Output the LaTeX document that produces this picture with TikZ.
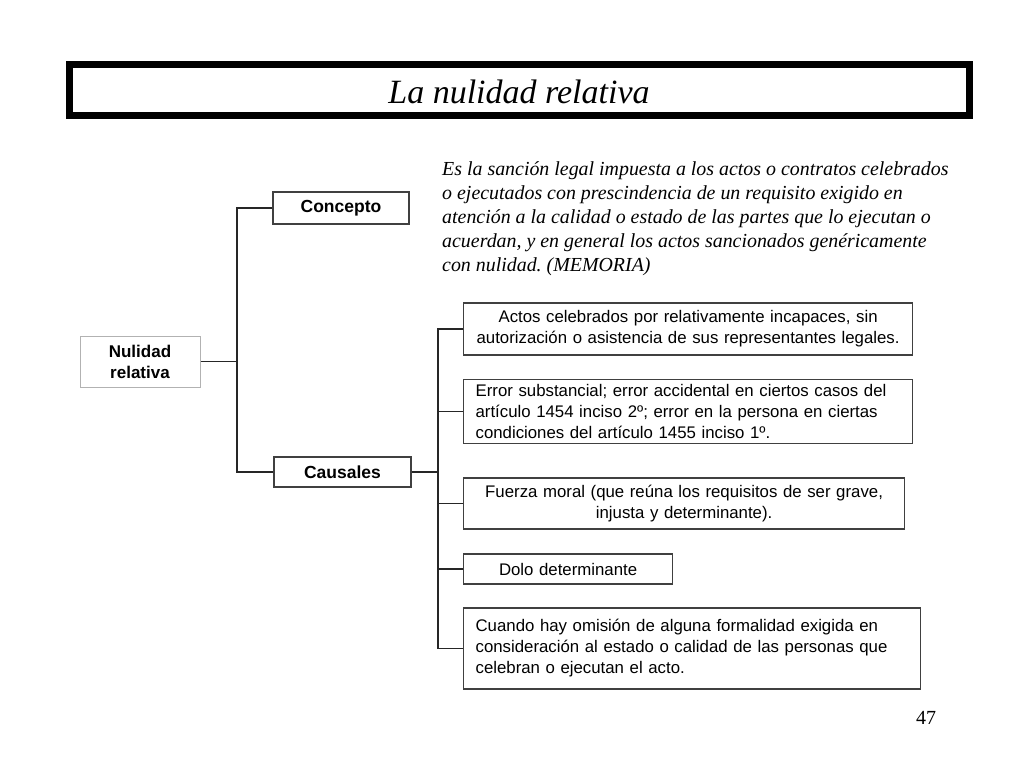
\documentclass[tikz,border=0pt]{standalone}
\usepackage{fontspec}
\setmainfont{Liberation Serif}
\setsansfont{Liberation Sans}
\usepackage{tikz}

\begin{document}
\frenchspacing
\begin{tikzpicture}[x=1pt,y=-1pt,
    caja/.style={draw=black!75,line width=1.2pt,fill=white,inner sep=0pt,
      font=\sffamily\fontsize{16.8}{21}\selectfont},
    titulo/.style={caja,font=\sffamily\bfseries\fontsize{17.5}{21}\selectfont},
    rama/.style={draw=black!85,line width=1.2pt}]
    \useasboundingbox (0,0) rectangle (1024,768);
    % marco del titulo
    \draw[line width=7pt] (69.5,64.5) rectangle (969,115.5);
    \node (tit) at (519,92) {\itshape\fontsize{34}{38}\selectfont La nulidad relativa};
    % arbol
    \node[titulo,draw=black!30,line width=1pt,minimum width=120pt,minimum height=51pt,
      align=center,font=\sffamily\bfseries\fontsize{17}{21}\selectfont]
      (nul) at (140,361.5) {Nulidad\\relativa};
    \node[titulo,minimum width=136pt,minimum height=32pt] (con) at (341,208) {Concepto};
    \node[titulo,minimum width=137pt,minimum height=30pt] (cau) at (342.5,472) {Causales};
    \node[anchor=north west,align=left,inner sep=0pt,
      font=\itshape\fontsize{19.9}{24}\selectfont] (def) at (442,161)
      {Es la sanción legal impuesta a los actos o contratos celebrados\\
       o ejecutados con prescindencia de un requisito exigido en\\
       atención a la calidad o estado de las partes que lo ejecutan o\\
       acuerdan, y en general los actos sancionados genéricamente\\
       con nulidad. (MEMORIA)};
    \node[caja,anchor=west,text width=449pt,minimum height=52pt,align=center]
      (c1) at (463,329) {Actos celebrados por relativamente incapaces, sin\\
       autorización o asistencia de sus representantes legales.};
    \node[caja,anchor=west,text width=425pt,minimum height=64pt,align=left,
      inner xsep=12pt] (c2) at (463,411.5)
      {Error substancial; error accidental en ciertos casos del\\
       artículo 1454 inciso 2º; error en la persona en ciertas\\
       condiciones del artículo 1455 inciso 1º.};
    \node[caja,anchor=west,text width=441pt,minimum height=51pt,align=center]
      (c3) at (463,503.5) {Fuerza moral (que reúna los requisitos de ser grave,\\
       injusta y determinante).};
    \node[caja,anchor=west,text width=209pt,minimum height=30pt,align=center]
      (c4) at (463,569) {Dolo determinante};
    \node[caja,anchor=west,text width=433pt,minimum height=81pt,align=left,
      inner xsep=12pt] (c5) at (463,648.5)
      {Cuando hay omisión de alguna formalidad exigida en\\
       consideración al estado o calidad de las personas que\\
       celebran o ejecutan el acto.};
    \node[font=\fontsize{20}{24}\selectfont] (pag) at (926,718) {47};
    % conectores
    \coordinate (j1) at (237,361.5);
    \coordinate (j2) at (438,472);
    \draw[rama] (nul.east) -- (j1);
    \draw[rama] (con.west) -| (j1) |- (cau.west);
    \draw[rama] (cau.east) -- (j2);
    \draw[rama] (c1.west) -| (j2) |- (c5.west);
    \foreach \c in {c2,c3,c4}{
      \draw[rama] (\c.west) -- (j2 |- \c.west);
    }
\end{tikzpicture}
\end{document}
